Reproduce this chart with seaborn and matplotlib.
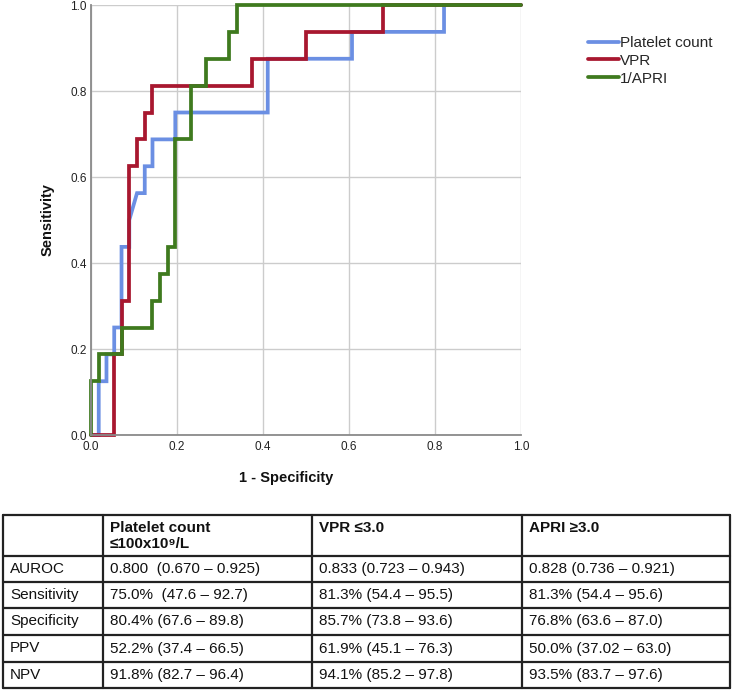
import matplotlib
matplotlib.use("Agg")
import matplotlib.pyplot as plt
import seaborn as sns
import pandas as pd
from matplotlib.lines import Line2D

# ROC curve vertices (1 - specificity, sensitivity)
platelet_fpr = [0, 0.018, 0.018, 0.036, 0.036, 0.054, 0.054, 0.071, 0.071, 0.089, 0.089, 0.107,
                0.125, 0.125, 0.143, 0.143, 0.196, 0.196, 0.411, 0.411, 0.607, 0.607, 0.821, 0.821, 1.0]
platelet_tpr = [0, 0, 0.125, 0.125, 0.1875, 0.1875, 0.25, 0.25, 0.4375, 0.4375, 0.5, 0.5625,
                0.5625, 0.625, 0.625, 0.6875, 0.6875, 0.75, 0.75, 0.875, 0.875, 0.9375, 0.9375, 1.0, 1.0]

vpr_fpr = [0, 0.054, 0.054, 0.071, 0.071, 0.089, 0.089, 0.107, 0.107, 0.125, 0.125, 0.143, 0.143,
           0.375, 0.375, 0.5, 0.5, 0.679, 0.679, 1.0]
vpr_tpr = [0, 0, 0.1875, 0.1875, 0.3125, 0.3125, 0.625, 0.625, 0.6875, 0.6875, 0.75, 0.75, 0.8125,
           0.8125, 0.875, 0.875, 0.9375, 0.9375, 1.0, 1.0]

apri_fpr = [0, 0, 0.018, 0.018, 0.071, 0.071, 0.143, 0.143, 0.161, 0.161, 0.179, 0.179, 0.196,
            0.196, 0.232, 0.232, 0.268, 0.268, 0.321, 0.321, 0.339, 0.339, 1.0]
apri_tpr = [0, 0.125, 0.125, 0.1875, 0.1875, 0.25, 0.25, 0.3125, 0.3125, 0.375, 0.375, 0.4375, 0.4375,
            0.6875, 0.6875, 0.8125, 0.8125, 0.875, 0.875, 0.9375, 0.9375, 1.0, 1.0]

curve_names = ["Platelet count", "VPR", "1/APRI"]
curve_colors = ["#6b8fe3", "#a8172f", "#3f7a1e"]

axis_ticks = [0.0, 0.2, 0.4, 0.6, 0.8, 1.0]
tick_labels = ["0.0", "0.2", "0.4", "0.6", "0.8", "1.0"]

table_header = ["", "Platelet count\n≤100x10⁹/L", "VPR ≤3.0", "APRI ≥3.0"]
row_labels = ["AUROC", "Sensitivity", "Specificity", "PPV", "NPV"]
platelet_col = ["0.800  (0.670 – 0.925)", "75.0%  (47.6 – 92.7)", "80.4% (67.6 – 89.8)",
                "52.2% (37.4 – 66.5)", "91.8% (82.7 – 96.4)"]
vpr_col = ["0.833 (0.723 – 0.943)", "81.3% (54.4 – 95.5)", "85.7% (73.8 – 93.6)",
           "61.9% (45.1 – 76.3)", "94.1% (85.2 – 97.8)"]
apri_col = ["0.828 (0.736 – 0.921)", "81.3% (54.4 – 95.6)", "76.8% (63.6 – 87.0)",
            "50.0% (37.02 – 63.0)", "93.5% (83.7 – 97.6)"]

sns.set_theme(style="white")
plt.rcParams['font.family'] = ['Liberation Sans', 'DejaVu Sans']

W, H = 733, 690
fig = plt.figure(figsize=(W / 100, H / 100), dpi=100)
ax = fig.add_axes([91 / W, 1 - 435 / H, 430 / W, 430 / H])

frames = []
for name, fpr, tpr in zip(curve_names, [platelet_fpr, vpr_fpr, apri_fpr], [platelet_tpr, vpr_tpr, apri_tpr]):
    frames.append(pd.DataFrame({"fpr": fpr, "tpr": tpr, "curve": name}))
df = pd.concat(frames, ignore_index=True)

sns.lineplot(data=df, x="fpr", y="tpr", hue="curve", hue_order=curve_names,
             palette=curve_colors, sort=False, estimator=None, linewidth=2.7, ax=ax, legend=False)
for ln in ax.lines:
    ln.set_clip_on(False)
    ln.set_solid_joinstyle("miter")

ax.set_xlim(0, 1)
ax.set_ylim(0, 1)
ax.set_xticks(axis_ticks)
ax.set_xticklabels(tick_labels)
ax.set_yticks(axis_ticks)
ax.set_yticklabels(tick_labels)
ax.grid(True, color="#cccccc", linewidth=1.0)
ax.set_axisbelow(True)
for s in ["top", "right"]:
    ax.spines[s].set_visible(False)
for s in ["left", "bottom"]:
    ax.spines[s].set_color("#8a8a8a")
    ax.spines[s].set_linewidth(1.3)
ax.tick_params(length=0, labelsize=8.5, colors="#222222")
ax.tick_params(axis="x", pad=4)
ax.tick_params(axis="y", pad=3)

ax.set_xlabel("1 - Specificity", fontsize=10.5, fontweight="bold", color="#111111")
ax.set_ylabel("Sensitivity", fontsize=10.5, fontweight="bold", color="#111111")
ax.xaxis.set_label_coords(0.453, -0.083)
ax.yaxis.set_label_coords(-0.085, 0.5)

handles = [Line2D([0], [0], color=c, linewidth=2.7) for c in curve_colors]
fig.legend(handles, curve_names, loc="upper left", bbox_to_anchor=(588 / W, 1 - 36 / H),
           frameon=False, fontsize=11, handlelength=2.0, handletextpad=0.1,
           labelspacing=0.25, borderpad=0, borderaxespad=0)

# table under the chart
col_edges = [3, 103, 312, 522, 730]
row_edges = [515, 556, 582, 608, 635, 662, 688]
for yv in row_edges:
    fig.add_artist(Line2D([col_edges[0] / W, col_edges[-1] / W], [1 - yv / H, 1 - yv / H],
                          color="#222222", linewidth=1.6))
for xv in col_edges:
    fig.add_artist(Line2D([xv / W, xv / W], [1 - row_edges[0] / H, 1 - row_edges[-1] / H],
                          color="#222222", linewidth=1.6))

for j, head in enumerate(table_header):
    if head:
        fig.text((col_edges[j] + 7) / W, 1 - 521 / H, head, fontsize=11, fontweight="bold",
                 ha="left", va="top", linespacing=1.2, color="#111111")

columns = [row_labels, platelet_col, vpr_col, apri_col]
for j, col in enumerate(columns):
    for i, val in enumerate(col):
        yc = (row_edges[i + 1] + row_edges[i + 2]) / 2
        fig.text((col_edges[j] + 7) / W, 1 - yc / H, val, fontsize=11,
                 ha="left", va="center", color="#111111")

fig.savefig("out.png", dpi=100)
